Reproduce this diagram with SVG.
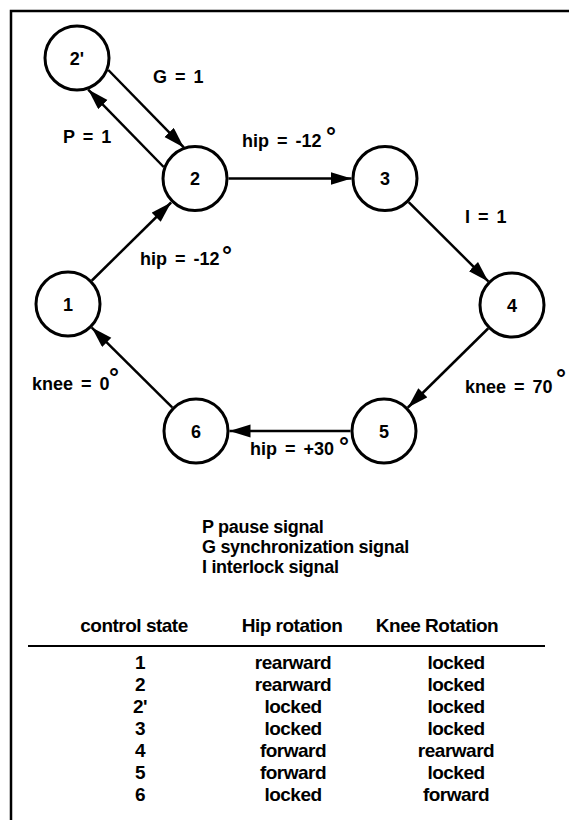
<svg xmlns="http://www.w3.org/2000/svg" width="569" height="820" viewBox="0 0 569 820">
<style>
text{font-family:"Liberation Sans",Arial,Helvetica,sans-serif;font-weight:bold;fill:#000}
.node circle{fill:#fff;stroke:#000;stroke-width:3}
.node text{font-size:18px;text-anchor:middle}
.edge{stroke:#000;stroke-width:2.5;fill:none;marker-end:url(#ah)}
.lbl{font-size:18px;word-spacing:3px}
.deg{font-size:25px;font-weight:bold}
.leg{font-size:18px;letter-spacing:-0.3px}
.th{font-size:19px;letter-spacing:-0.5px;text-anchor:middle}
.td{font-size:19px;letter-spacing:-0.5px;text-anchor:middle}
</style>
<defs>
<marker id="ah" markerUnits="userSpaceOnUse" markerWidth="22" markerHeight="14" refX="21" refY="6.5" orient="auto">
<path d="M0,0 L21,6.5 L0,13 Z" fill="#000"/>
</marker>
</defs>
<rect width="569" height="820" fill="#fff"/>
<path d="M11,820 L11,11 L569,11" fill="none" stroke="#000" stroke-width="2.5"/>
<g id="connectors">
<line class="edge" x1="91.9" y1="280.5" x2="171.1" y2="202.5"/>
<line class="edge" x1="228.5" y1="178.5" x2="351.5" y2="178.5"/>
<line class="edge" x1="408.7" y1="202.1" x2="488.3" y2="281.4"/>
<line class="edge" x1="488.1" y1="328.5" x2="407.9" y2="407.5"/>
<line class="edge" x1="350.5" y1="431" x2="229.5" y2="431"/>
<line class="edge" x1="172.2" y1="407.4" x2="91.8" y2="327.6"/>
<line class="edge" x1="108.3" y1="70" x2="183.8" y2="147.4"/>
<line class="edge" x1="163.7" y1="167" x2="88.2" y2="89.6"/>
</g>
<g id="node-2p" class="node"><circle cx="77" cy="58" r="32"/><text x="77" y="64.5">2'</text></g>
<g id="node-2" class="node"><circle cx="195" cy="178.5" r="32"/><text x="195" y="185">2</text></g>
<g id="node-3" class="node"><circle cx="385" cy="178.5" r="32"/><text x="385" y="185">3</text></g>
<g id="node-1" class="node"><circle cx="68" cy="304" r="32"/><text x="68" y="310.5">1</text></g>
<g id="node-4" class="node"><circle cx="512" cy="305" r="32"/><text x="512" y="311.5">4</text></g>
<g id="node-5" class="node"><circle cx="384" cy="431" r="32"/><text x="384" y="437.5">5</text></g>
<g id="node-6" class="node"><circle cx="196" cy="431" r="32"/><text x="196" y="437.5">6</text></g>
<g id="labels">
<text class="lbl" x="153" y="83">G = 1</text>
<text class="lbl" x="63" y="143">P = 1</text>
<text class="lbl" x="242" y="147">hip = -12</text>
<text class="deg" x="326" y="145">°</text>
<text class="lbl" x="140" y="265">hip = -12</text>
<text class="deg" x="222" y="264">°</text>
<text class="lbl" x="465" y="393">knee = 70</text>
<text class="deg" x="556" y="387">°</text>
<text class="lbl" x="465" y="223">I = 1</text>
<text class="lbl" x="32" y="390">knee = 0</text>
<text class="deg" x="109" y="386">°</text>
<text class="lbl" x="250" y="455">hip = +30</text>
<text class="deg" x="339" y="455">°</text>
</g>
<g id="legend">
<text class="leg" x="202" y="533">P pause signal</text>
<text class="leg" x="202" y="553">G synchronization signal</text>
<text class="leg" x="202" y="573">I interlock signal</text>
</g>
<g id="table">
<text class="th" x="134" y="632">control state</text>
<text class="th" x="292" y="632">Hip rotation</text>
<text class="th" x="437" y="632">Knee Rotation</text>
<line x1="28" y1="646" x2="545" y2="646" stroke="#000" stroke-width="2"/>
<text class="td" x="140" y="669">1</text><text class="td" x="293" y="669">rearward</text><text class="td" x="456" y="669">locked</text>
<text class="td" x="140" y="691">2</text><text class="td" x="293" y="691">rearward</text><text class="td" x="456" y="691">locked</text>
<text class="td" x="140" y="713">2'</text><text class="td" x="293" y="713">locked</text><text class="td" x="456" y="713">locked</text>
<text class="td" x="140" y="735">3</text><text class="td" x="293" y="735">locked</text><text class="td" x="456" y="735">locked</text>
<text class="td" x="140" y="757">4</text><text class="td" x="293" y="757">forward</text><text class="td" x="456" y="757">rearward</text>
<text class="td" x="140" y="779">5</text><text class="td" x="293" y="779">forward</text><text class="td" x="456" y="779">locked</text>
<text class="td" x="140" y="801">6</text><text class="td" x="293" y="801">locked</text><text class="td" x="456" y="801">forward</text>
</g>
</svg>
